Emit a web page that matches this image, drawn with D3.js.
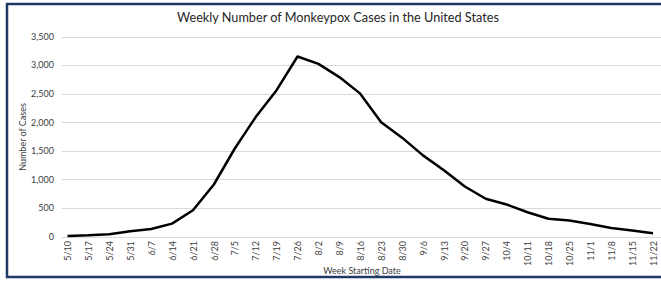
<!DOCTYPE html>
<html><head><meta charset="utf-8">
<script src="https://cdn.jsdelivr.net/npm/d3@7"></script>
<style>body{margin:0;background:#fff}svg{display:block}text{font-family:Lato,"Open Sans",sans-serif}</style>
</head><body>
<script>
const weeks = ["5/10","5/17","5/24","5/31","6/7","6/14","6/21","6/28","7/5","7/12","7/19","7/26","8/2","8/9","8/16","8/23","8/30","9/6","9/13","9/20","9/27","10/4","10/11","10/18","10/25","11/1","11/8","11/15","11/22"];
const cases = [10,20,40,90,130,225,460,910,1540,2090,2560,3150,3020,2790,2500,2000,1730,1420,1160,875,660,560,425,310,280,220,150,105,55];
const yTicks = [0,500,1000,1500,2000,2500,3000,3500];
const title = "Weekly Number of Monkeypox Cases in the United States";
const yTitle = "Number of Cases";
const xTitle = "Week Starting Date";

const W = 661, H = 282;
const svg = d3.select("body").append("svg").attr("width", W).attr("height", H);

const x = d3.scalePoint().domain(weeks).range([67.5, 653]);
const y = d3.scaleLinear().domain([0, 3500]).range([236.5, 36.5]);

// gridlines
svg.append("g").selectAll("line").data(yTicks).join("line")
  .attr("x1", 62).attr("x2", W).attr("y1", d => Math.round(y(d)) + 0.5).attr("y2", d => Math.round(y(d)) + 0.5)
  .attr("stroke", "#d9d9d9").attr("stroke-width", 1);

// y axis labels
const yAxis = d3.axisLeft(y).tickValues(yTicks).tickSize(0).tickPadding(0).tickFormat(d3.format(","));
svg.append("g").attr("transform", "translate(54,0)").call(yAxis)
  .call(g => g.select(".domain").remove())
  .selectAll("text").attr("font-size", 9).attr("fill", "#404040").attr("font-family", "Lato, sans-serif");

// x axis labels
const xAxis = d3.axisBottom(x).tickSize(0).tickPadding(0);
svg.append("g").attr("transform", "translate(0,241)").call(xAxis)
  .call(g => g.select(".domain").remove())
  .selectAll("text")
  .attr("transform", "rotate(-90)")
  .attr("text-anchor", "end")
  .attr("x", 0).attr("y", 0).attr("dy", "0.35em")
  .attr("font-size", 9).attr("fill", "#404040").attr("font-family", "Lato, sans-serif");

// line
svg.append("path").datum(cases)
  .attr("fill", "none").attr("stroke", "#000").attr("stroke-width", 2.5).attr("stroke-linejoin", "round")
  .attr("d", d3.line().x((d, i) => x(weeks[i])).y(d => y(d)));

// titles
svg.append("text").attr("x", 338).attr("y", 22).attr("text-anchor", "middle")
  .attr("font-size", 12.7).attr("fill", "#262626").text(title);
svg.append("text").attr("transform", "translate(26,137) rotate(-90)").attr("text-anchor", "middle")
  .attr("font-size", 9).attr("fill", "#404040").text(yTitle);
svg.append("text").attr("x", 362).attr("y", 274).attr("text-anchor", "middle")
  .attr("font-size", 9).attr("fill", "#404040").text(xTitle);

// frame
svg.append("rect").attr("x", 7).attr("y", 4).attr("width", 720).attr("height", 273)
  .attr("fill", "none").attr("stroke", "#1f3864").attr("stroke-width", 2.5);
</script>
</body></html>
